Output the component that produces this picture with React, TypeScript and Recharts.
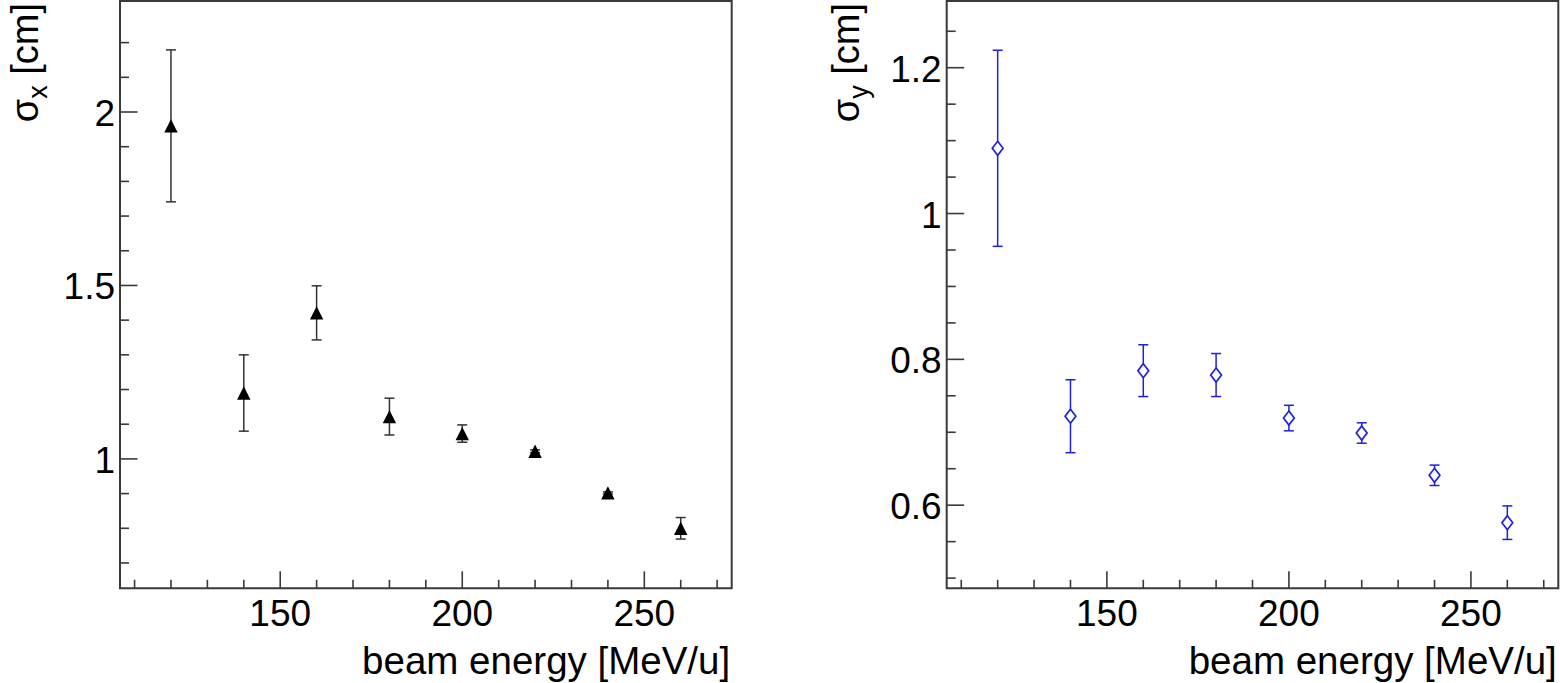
import React from "react";
import {
  ScatterChart,
  Scatter,
  XAxis,
  YAxis,
  ErrorBar,
  ReferenceArea,
} from "recharts";

// beam energies [MeV/u]
const energies = [120, 140, 160, 180, 200, 220, 240, 260];

// sigma_x [cm] with errors
const sigmaX = [1.96, 1.19, 1.421, 1.122, 1.073, 1.022, 0.902, 0.8];
const sigmaXErr = [0.219, 0.11, 0.078, 0.053, 0.025, 0.004, 0.003, 0.031];

// sigma_y [cm] with errors
const sigmaY = [1.0895, 0.722, 0.7845, 0.7785, 0.7195, 0.699, 0.641, 0.576];
const sigmaYErr = [0.1345, 0.05, 0.0355, 0.0295, 0.0175, 0.014, 0.014, 0.023];

const xTicks = [110, 120, 130, 140, 150, 160, 170, 180, 190, 200, 210, 220, 230, 240, 250, 260, 270];
const xLabels = [150, 200, 250];

const leftYTicks = [0.7, 0.8, 0.9, 1, 1.1, 1.2, 1.3, 1.4, 1.5, 1.6, 1.7, 1.8, 1.9, 2, 2.1, 2.2];
const leftYLabels = [1, 1.5, 2];

const rightYTicks = [
  0.5, 0.55, 0.6, 0.65, 0.7, 0.75, 0.8, 0.85, 0.9, 0.95, 1, 1.05, 1.1, 1.15, 1.2, 1.25,
];
const rightYLabels = [0.6, 0.8, 1, 1.2];

const xDomain: [number, number] = [106, 274];
const leftYDomain: [number, number] = [0.627, 2.32];
const rightYDomain: [number, number] = [0.486, 1.2915];

const FONT = "'Liberation Sans', Arial, sans-serif";
const AXIS = "#3a3a3a";
const BLUE = "#2020e0";

const leftData = energies.map((e, i) => ({ energy: e, value: sigmaX[i], err: sigmaXErr[i] }));
const rightData = energies.map((e, i) => ({ energy: e, value: sigmaY[i], err: sigmaYErr[i] }));

const isIn = (list: number[], v: number) => list.some((l) => Math.abs(l - v) < 1e-6);

const XTick = (props: any) => {
  const { x, y, payload } = props;
  const major = isIn(xLabels, payload.value);
  return (
    <g>
      <line x1={x} x2={x} y1={y} y2={y - (major ? 17 : 8.5)} stroke={AXIS} strokeWidth={1.6} />
      {major && (
        <text x={x} y={y + 38} textAnchor="middle" fontSize={37} fontFamily={FONT} fill="#000">
          {payload.value}
        </text>
      )}
    </g>
  );
};

const makeYTick = (labels: number[]) => (props: any) => {
  const { x, y, payload } = props;
  const major = isIn(labels, payload.value);
  return (
    <g>
      <line x1={x} x2={x + (major ? 17.5 : 9)} y1={y} y2={y} stroke={AXIS} strokeWidth={1.6} />
      {major && (
        <text x={x - 5} y={y + 14} textAnchor="end" fontSize={37} fontFamily={FONT} fill="#000">
          {String(payload.value)}
        </text>
      )}
    </g>
  );
};

const triangle = (props: any) => {
  const { cx, cy } = props;
  const h = 6.7;
  return <polygon points={`${cx},${cy - h} ${cx - h},${cy + h} ${cx + h},${cy + h}`} fill="#000" />;
};

const diamond = (props: any) => {
  const { cx, cy } = props;
  return (
    <polygon
      points={`${cx},${cy - 7} ${cx + 5.4},${cy} ${cx},${cy + 7} ${cx - 5.4},${cy}`}
      fill="#fff"
      stroke={BLUE}
      strokeWidth={1.7}
    />
  );
};

type PanelProps = {
  left: number;
  width: number;
  yAxisWidth: number;
  marginRight: number;
  titleX: number;
  sub: string;
  data: any[];
  yTicks: number[];
  yLabels: number[];
  yDomain: [number, number];
  color: string;
  barColor: string;
  shape: (p: any) => React.ReactElement;
};

function Panel(p: PanelProps) {
  const yTitle = () => {
    const x = p.titleX;
    const y = 3;
    return (
      <text
        x={x}
        y={y}
        transform={`rotate(-90, ${x}, ${y})`}
        textAnchor="end"
        fontSize={38}
        fontFamily={FONT}
        fill="#000"
      >
        σ
        <tspan fontSize={27} dy={9}>
          {p.sub}
        </tspan>
        <tspan dy={-9}> [cm]</tspan>
      </text>
    );
  };
  const xTitle = (lp: any) => {
    const vb = lp.viewBox || {};
    return (
      <text
        x={vb.x + vb.width - 1.5}
        y={vb.y + 85.4}
        textAnchor="end"
        fontSize={38.5}
        fontFamily={FONT}
        fill="#000"
      >
        beam energy [MeV/u]
      </text>
    );
  };
  return (
    <div style={{ position: "absolute", left: p.left, top: 0 }}>
      <ScatterChart
        width={p.width}
        height={683}
        margin={{ top: 1, right: p.marginRight, bottom: 0, left: 0 }}
      >
        <XAxis
          type="number"
          dataKey="energy"
          domain={xDomain}
          ticks={xTicks}
          interval={0}
          allowDataOverflow
          axisLine={false}
          tickLine={false}
          tickSize={0}
          tickMargin={0}
          height={94.7}
          tick={XTick}
          label={{ content: xTitle }}
        />
        <YAxis
          type="number"
          dataKey="value"
          domain={p.yDomain}
          ticks={p.yTicks}
          interval={0}
          allowDataOverflow
          axisLine={false}
          tickLine={false}
          tickSize={0}
          tickMargin={0}
          width={p.yAxisWidth}
          tick={makeYTick(p.yLabels)}
          label={{ content: yTitle }}
        />
        <ReferenceArea
          x1={xDomain[0]}
          x2={xDomain[1]}
          y1={p.yDomain[0]}
          y2={p.yDomain[1]}
          fill="none"
          stroke={AXIS}
          strokeWidth={2}
        />
        <Scatter data={p.data} fill={p.color} shape={p.shape} isAnimationActive={false}>
          <ErrorBar dataKey="err" direction="y" width={5} stroke={p.barColor} strokeWidth={1.5} />
        </Scatter>
      </ScatterChart>
    </div>
  );
}

export default function App() {
  return (
    <div
      style={{
        position: "absolute",
        left: 0,
        top: 0,
        width: 1560,
        height: 683,
        background: "#fff",
        overflow: "hidden",
      }}
    >
      <Panel
        left={0}
        width={760}
        yAxisWidth={120}
        marginRight={28.3}
        titleX={38}
        sub="x"
        data={leftData}
        yTicks={leftYTicks}
        yLabels={leftYLabels}
        yDomain={leftYDomain}
        color="#000"
        barColor="#333"
        shape={triangle}
      />
      <Panel
        left={780}
        width={780}
        yAxisWidth={166.7}
        marginRight={1.7}
        titleX={79}
        sub="y"
        data={rightData}
        yTicks={rightYTicks}
        yLabels={rightYLabels}
        yDomain={rightYDomain}
        color={BLUE}
        barColor={BLUE}
        shape={diamond}
      />
    </div>
  );
}
